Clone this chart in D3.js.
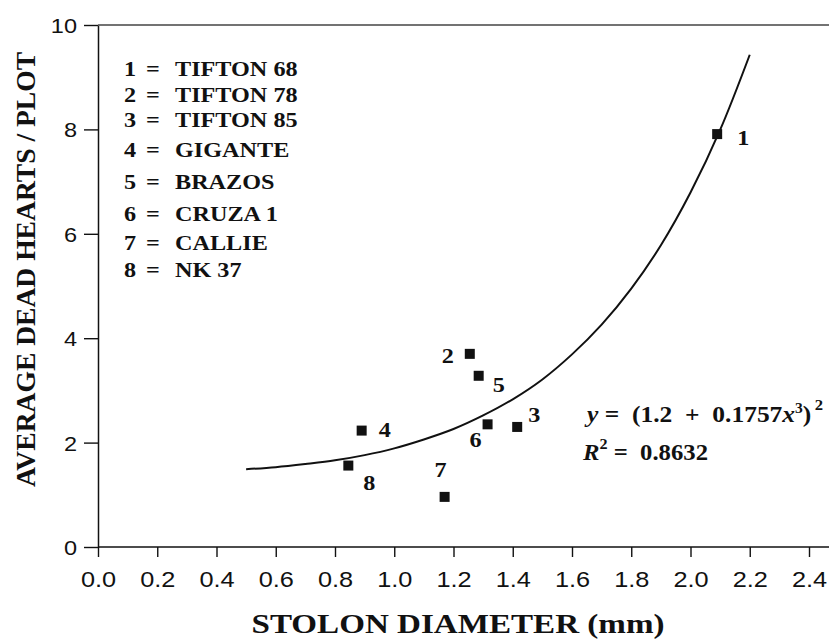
<!DOCTYPE html>
<html>
<head>
<meta charset="utf-8">
<script src="https://cdn.jsdelivr.net/npm/d3@7"></script>
<style>
  html, body { margin: 0; padding: 0; background: #fff; }
  svg { display: block; }
  .pre { white-space: pre; }
</style>
</head>
<body>
<svg id="chart" width="829" height="644"></svg>
<script>
// ---------- DATA ----------
const cultivarIds   = [1, 2, 3, 4, 5, 6, 7, 8];
const cultivarNames = ["TIFTON 68", "TIFTON 78", "TIFTON 85", "GIGANTE", "BRAZOS", "CRUZA 1", "CALLIE", "NK 37"];
const stolonDiameter = [2.09, 1.255, 1.415, 0.89, 1.285, 1.315, 1.17, 0.845];
const deadHearts     = [7.91, 3.70, 2.30, 2.23, 3.28, 2.35, 0.96, 1.56];

// fitted curve
const curveX = [0.5, 0.6, 0.7, 0.8, 0.9, 1.0, 1.1, 1.2, 1.3, 1.4, 1.5, 1.6, 1.7, 1.8, 1.9, 2.0, 2.1, 2.2];
const curveY = [1.49, 1.53, 1.59, 1.66, 1.76, 1.89, 2.06, 2.26, 2.52, 2.83, 3.21, 3.69, 4.26, 4.95, 5.78, 6.79, 7.99, 9.43];

const xTicks = [0.0, 0.2, 0.4, 0.6, 0.8, 1.0, 1.2, 1.4, 1.6, 1.8, 2.0, 2.2, 2.4];
const yTicks = [0, 2, 4, 6, 8, 10];

const xTitle = "STOLON DIAMETER (mm)";
const yTitle = "AVERAGE DEAD HEARTS / PLOT";
const r2Text = "0.8632";

// ---------- LAYOUT ----------
const W = 829, H = 644;
const svg = d3.select("#chart");
const serif = "'Liberation Serif', 'Times New Roman', serif";
const sans = "'Liberation Sans', Arial, Helvetica, sans-serif";
const ink = "#111";

const x = d3.scaleLinear().domain([0, 2.4]).range([98, 809]);
const y = d3.scaleLinear().domain([0, 10]).range([547, 25]);

function stretch(sel, f) {
  sel.each(function () {
    const w = this.getComputedTextLength();
    d3.select(this).attr("textLength", w * f).attr("lengthAdjust", "spacingAndGlyphs");
  });
}

// x axis
const gx = svg.append("g").attr("transform", `translate(0,${y(0)})`)
  .call(d3.axisBottom(x).tickValues(xTicks).tickFormat(d3.format(".1f")).tickSize(10).tickSizeOuter(0));
gx.select(".domain").remove();
gx.selectAll(".tick line").attr("stroke", ink).attr("stroke-width", 1.4);
gx.selectAll(".tick text").attr("fill", ink).attr("font-family", sans).attr("font-size", 22)
  .attr("y", 24).attr("dy", "0.71em");
stretch(gx.selectAll(".tick text"), 1.15);

// y axis
const gy = svg.append("g").attr("transform", `translate(${x(0)},0)`)
  .call(d3.axisLeft(y).tickValues(yTicks).tickSize(14).tickSizeOuter(0));
gy.select(".domain").attr("stroke", ink).attr("stroke-width", 1.5);
gy.selectAll(".tick line").attr("stroke", ink).attr("stroke-width", 1.4);
gy.selectAll(".tick text").attr("fill", ink).attr("font-family", sans).attr("font-size", 21)
  .attr("x", -21).attr("dy", "0.36em");
stretch(gy.selectAll(".tick text"), 1.12);

// x axis line and top frame line extending to the right edge
svg.append("line").attr("x1", x(0)).attr("x2", W).attr("y1", y(0)).attr("y2", y(0))
  .attr("stroke", ink).attr("stroke-width", 1.5);
svg.append("line").attr("x1", x(0)).attr("x2", W).attr("y1", y(10)).attr("y2", y(10))
  .attr("stroke", "#444").attr("stroke-width", 1.3);

// axis titles
svg.append("text").attr("x", 458).attr("y", 633).attr("text-anchor", "middle")
  .attr("font-family", serif).attr("font-weight", "bold").attr("font-size", 27).attr("fill", ink)
  .attr("textLength", 413).attr("lengthAdjust", "spacingAndGlyphs").text(xTitle);
svg.append("text").attr("transform", `translate(35,269.5) rotate(-90)`).attr("text-anchor", "middle")
  .attr("font-family", serif).attr("font-weight", "bold").attr("font-size", 27).attr("fill", ink)
  .attr("textLength", 435).attr("lengthAdjust", "spacingAndGlyphs").text(yTitle);

// fitted curve
const pts = curveX.map((v, i) => [v, curveY[i]]);
svg.append("path").datum(pts)
  .attr("d", d3.line().x(d => x(d[0])).y(d => y(d[1])).curve(d3.curveCatmullRom))
  .attr("fill", "none").attr("stroke", ink).attr("stroke-width", 2);

// points
const S = 10;
const data = cultivarIds.map((id, i) => ({ id, xv: stolonDiameter[i], yv: deadHearts[i] }));
svg.append("g").selectAll("rect").data(data).join("rect")
  .attr("x", d => x(d.xv) - S / 2).attr("y", d => y(d.yv) - S / 2)
  .attr("width", S).attr("height", S).attr("fill", ink);

// point labels (offsets from each marker)
const labelOffsets = { 1: [20, 11], 2: [-28, 9], 3: [11, -5], 4: [17, 6], 5: [14, 16], 6: [-18, 23], 7: [-10, -20], 8: [15, 24] };
const pl = svg.append("g").selectAll("text").data(data).join("text")
  .attr("x", d => x(d.xv) + labelOffsets[d.id][0]).attr("y", d => y(d.yv) + labelOffsets[d.id][1])
  .attr("font-family", serif).attr("font-weight", "bold").attr("font-size", 22).attr("fill", ink)
  .text(d => d.id);
stretch(pl, 1.1);

// legend
const legendY = [76, 102, 127, 157, 189, 221, 250, 277];
const lg = svg.append("g");
cultivarIds.forEach((id, i) => {
  const row = lg.append("g").attr("font-family", serif).attr("font-weight", "bold")
    .attr("font-size", 22).attr("fill", ink);
  row.append("text").attr("x", 124).attr("y", legendY[i]).text(id);
  row.append("text").attr("x", 146).attr("y", legendY[i]).text("=");
  row.append("text").attr("x", 175).attr("y", legendY[i]).text(cultivarNames[i]);
  stretch(row.selectAll("text"), 1.1);
});

// equation
const eq = svg.append("text").attr("class", "pre").attr("x", 587).attr("y", 422)
  .attr("font-family", serif).attr("font-weight", "bold").attr("font-size", 23).attr("fill", ink);
eq.append("tspan").attr("font-style", "italic").text("y");
eq.append("tspan").text(" =  (1.2  +  0.1757");
eq.append("tspan").attr("font-style", "italic").text("x");
eq.append("tspan").attr("font-size", 14).attr("dy", -9).text("3");
eq.append("tspan").attr("dy", 9).text(")");
eq.append("tspan").attr("font-size", 15).attr("dy", -12).attr("dx", 3).text("2");
stretch(eq, 236 / eq.node().getComputedTextLength());

const r2 = svg.append("text").attr("class", "pre").attr("x", 583).attr("y", 460)
  .attr("font-family", serif).attr("font-weight", "bold").attr("font-size", 23).attr("fill", ink);
r2.append("tspan").attr("font-style", "italic").text("R");
r2.append("tspan").attr("font-size", 15).attr("dy", -11).text("2");
r2.append("tspan").attr("dy", 11).text(" =  " + r2Text);
stretch(r2, 125 / r2.node().getComputedTextLength());
</script>
</body>
</html>
